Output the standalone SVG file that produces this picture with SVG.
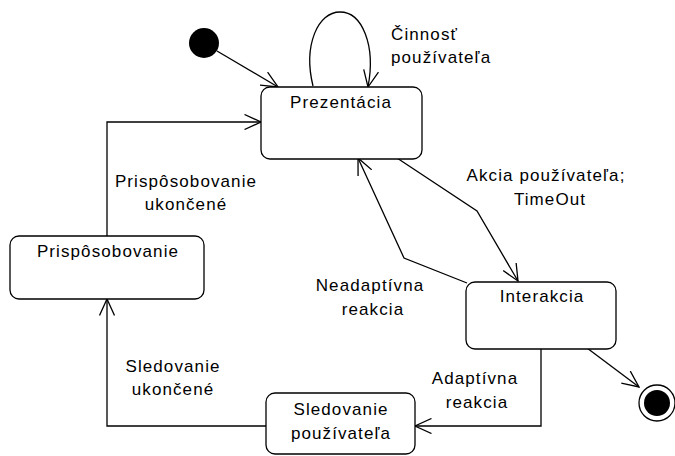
<svg xmlns="http://www.w3.org/2000/svg" width="675" height="456" viewBox="0 0 675 456">
  <defs>
    <marker id="open" viewBox="0 0 18 16" refX="17" refY="8" markerWidth="18" markerHeight="16" markerUnits="userSpaceOnUse" orient="auto">
      <path d="M0.5,0.5 L17,8 L0.5,15.5" fill="none" stroke="#000" stroke-width="1.3"/>
    </marker>
  </defs>
  <style>
    .state { fill: #fff; stroke: #000; stroke-width: 1.3; }
    .edge { fill: none; stroke: #000; stroke-width: 1.3; marker-end: url(#open); }
    text { font-family: "Liberation Sans", Arial, sans-serif; font-size: 17px; letter-spacing: 1.1px; fill: #000; }
    .c { text-anchor: middle; }
  </style>
  <rect width="675" height="456" fill="#fff"/>

  <!-- transitions -->
  <g id="connectors">
    <line class="edge" x1="217" y1="51" x2="278" y2="87"/>
    <path class="edge" d="M313,86 C303,45 318,12 340,12 C362,12 376,45 368,87"/>
    <polyline class="edge" points="107,236 107,122 261,122"/>
    <polyline class="edge" points="397,158 477,211 518,281"/>
    <polyline class="edge" points="467,283 404,258 358,158"/>
    <line class="edge" x1="587" y1="348" x2="639" y2="387"/>
    <polyline class="edge" points="541,349 541,426 415,426"/>
    <polyline class="edge" points="266,426 107,426 107,299"/>
  </g>

  <!-- transition labels -->
  <g id="labels">
    <text x="391" y="40">Činnosť</text>
    <text x="391" y="63">používateľa</text>
    <text class="c" x="186" y="187">Prispôsobovanie</text>
    <text class="c" x="186" y="210">ukončené</text>
    <text class="c" x="546" y="181">Akcia používateľa;</text>
    <text class="c" x="550" y="205">TimeOut</text>
    <text class="c" x="370" y="291">Neadaptívna</text>
    <text class="c" x="373" y="315">reakcia</text>
    <text class="c" x="475" y="384">Adaptívna</text>
    <text class="c" x="477" y="408">reakcia</text>
    <text class="c" x="173" y="372">Sledovanie</text>
    <text class="c" x="173" y="395">ukončené</text>
  </g>

  <g id="initial">
    <circle cx="204" cy="43" r="15" fill="#000"/>
  </g>

  <g id="final">
    <circle cx="657" cy="403" r="18" fill="#fff" stroke="#000" stroke-width="1.3"/>
    <circle cx="657" cy="403" r="13" fill="#000"/>
  </g>

  <g id="prezentacia">
    <rect class="state" x="261" y="87" width="161" height="72" rx="9"/>
    <text class="c" x="341" y="108">Prezentácia</text>
  </g>

  <g id="prisposobovanie">
    <rect class="state" x="10" y="236" width="194" height="63" rx="9"/>
    <text class="c" x="108" y="257">Prispôsobovanie</text>
  </g>

  <g id="interakcia">
    <rect class="state" x="466" y="282" width="150" height="67" rx="9"/>
    <text class="c" x="542" y="302">Interakcia</text>
  </g>

  <g id="sledovanie">
    <rect class="state" x="266" y="393" width="149" height="61" rx="9"/>
    <text class="c" x="341" y="415">Sledovanie</text>
    <text class="c" x="341" y="439">používateľa</text>
  </g>
</svg>
